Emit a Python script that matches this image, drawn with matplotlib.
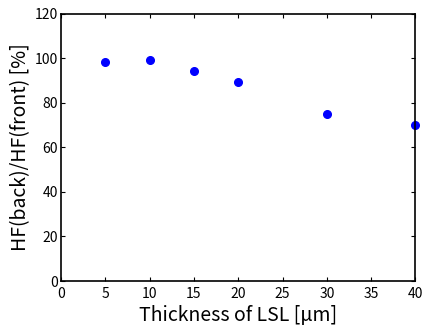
import matplotlib
matplotlib.use("Agg")
import matplotlib.pyplot as plt

# data
thickness = [5, 10, 15, 20, 30, 40]
hf_ratio = [98.2, 99.0, 94.3, 89.5, 74.8, 69.8]
x_ticks = [0, 5, 10, 15, 20, 25, 30, 35, 40]
y_ticks = [0, 20, 40, 60, 80, 100, 120]

plt.rcParams['font.family'] = ['Noto Sans CJK JP', 'DejaVu Sans']

fig = plt.figure(figsize=(4.22, 3.31), dpi=100)
ax = fig.add_axes([0.1445, 0.151, 0.84, 0.808])

ax.plot(thickness, hf_ratio, 'o', color='#0000ff', markersize=5.5, clip_on=False)

ax.set_xlim(0, 40)
ax.set_ylim(0, 120)
ax.set_xticks(x_ticks)
ax.set_yticks(y_ticks)
ax.tick_params(direction='in', top=True, right=True, length=3, width=0.8,
               labelsize=10, pad=2)
ax.tick_params(axis='x', pad=4)
for s in ax.spines.values():
    s.set_linewidth(1.2)

ax.set_xlabel('Thickness of LSL [μm]', fontsize=14, labelpad=3)
ax.set_ylabel('HF(back)/HF(front) [%]', fontsize=14, labelpad=3)

fig.savefig('out.png', dpi=100)
